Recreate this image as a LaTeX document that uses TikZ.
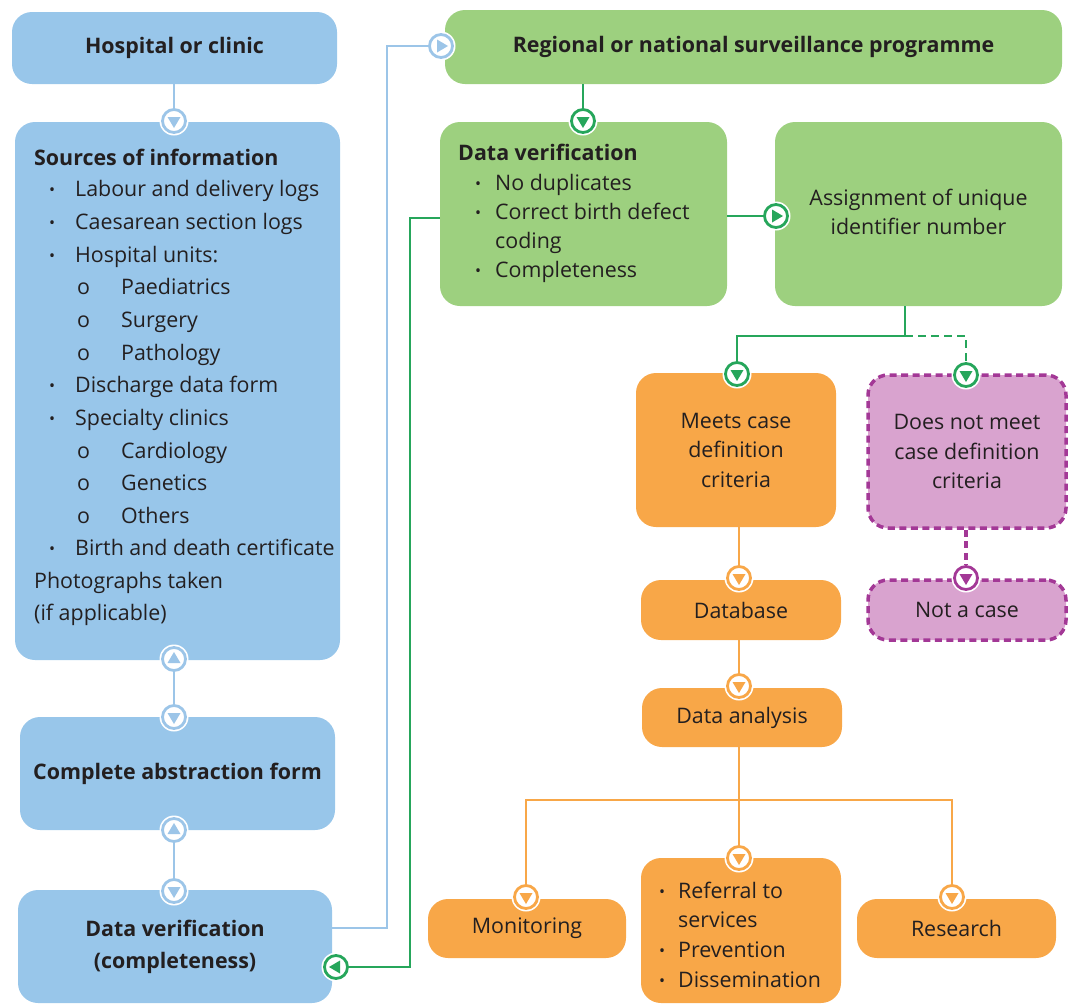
\documentclass[tikz,border=0pt]{standalone}
\usepackage{fontspec}
\setmainfont{Open Sans}
\usetikzlibrary{calc}
\definecolor{bfill}{HTML}{98C6EA}
\definecolor{bline}{HTML}{9CC5E8}
\definecolor{gfill}{HTML}{9DD07F}
\definecolor{gline}{HTML}{26A65B}
\definecolor{ofill}{HTML}{F8A748}
\definecolor{pfill}{HTML}{D9A3CF}
\definecolor{pline}{HTML}{A33896}
\definecolor{txt}{HTML}{231F20}
\newcommand\rbox[7]{\node[#1, minimum width={#4-#2}, minimum height={#5-#3}] (#6) at ({(#2+#4)/2},{(#3+#5)/2}) {#7};}
\newcommand\mk[4]{%
  \fill[white] #2 circle (14.5pt);
  \node[circle, draw=#3, fill=white, line width=2.8pt, minimum size=23pt, inner sep=0pt] (#1) at #2 {};
  \fill[#3, shift={#2}, rotate=#4] (-6.5pt,4pt) -- (6.5pt,4pt) -- (0pt,-7pt) -- cycle;}
\newcommand\smbul{\raisebox{0.5pt}{\fontsize{16}{16}\selectfont\textbullet}}
\newcommand\bu[2]{\makebox[#2pt][l]{\hspace{#1pt}\smbul}}
\newcommand\oo{\makebox[87pt][l]{\hspace{43pt}o}}
\newcommand\li[4]{\node[anchor=base west, inner sep=0pt, text=txt] (#1) at (#2,{#3+8}) {#4};}
\begin{document}
\begin{tikzpicture}[x=1pt,y=-1pt, font=\fontsize{21.4}{29.5}\selectfont,
  box/.style={rounded corners=20pt, inner sep=0pt, align=center, text=txt},
  bbox/.style={box, fill=bfill},
  gbox/.style={box, fill=gfill},
  obox/.style={box, fill=ofill},
  pbox/.style={box, fill=pfill, draw=pline, line width=3.5pt, dash pattern=on 7pt off 4.5pt},
  bl/.style={draw=bline, line width=2pt},
  gl/.style={draw=gline, line width=2pt},
  ol/.style={draw=ofill, line width=2pt},
  pl/.style={draw=pline, line width=3.5pt, dash pattern=on 7pt off 4.5pt}]
\useasboundingbox (0,0) rectangle (1070,1007);
% boxes
\rbox{bbox}{12}{12}{337}{84}{hosp}{\textbf{Hospital or clinic}}
\rbox{bbox}{15}{122}{340}{660}{src}{}
\rbox{bbox}{20}{717}{335}{830}{abs}{\textbf{Complete abstraction form}}
\rbox{bbox}{18}{890}{332}{1003}{dvc}{\raisebox{9pt}{\begin{tabular}{@{}c@{}}\textbf{Data verification}\\[3pt]\textbf{(completeness)}\end{tabular}}}
\rbox{gbox}{445}{10}{1062}{84}{reg}{\textbf{Regional or national surveillance programme}}
\rbox{gbox}{440}{122}{727}{306}{dv}{}
\rbox{gbox}{775}{122}{1062}{306}{asg}{\raisebox{13pt}{\begin{tabular}{@{}c@{}}Assignment of unique\\identifier number\end{tabular}}}
\rbox{obox}{636}{373}{836}{527}{meet}{Meets case\\definition\\criteria}
\rbox{pbox}{868}{375}{1066}{528}{nmeet}{Does not meet\\case definition\\criteria}
\rbox{pbox}{868}{580}{1066}{640}{nocase}{Not a case}
\rbox{obox}{641}{580}{841}{640}{db}{Database}
\rbox{obox}{642}{688}{842}{747}{da}{Data analysis}
\rbox{obox}{428}{899}{626}{958}{mon}{Monitoring}
\rbox{obox}{641}{858}{841}{1003}{ref}{}
\rbox{obox}{857}{899}{1056}{958}{res}{Research}
% list texts
\li{s1}{34}{157}{\textbf{Sources of information}}
\li{s2}{34}{188}{\bu{15}{41}Labour and delivery logs}
\li{s3}{34}{221}{\bu{15}{41}Caesarean section logs}
\li{s4}{34}{254}{\bu{15}{41}Hospital units:}
\li{s5}{34}{286}{\oo Paediatrics}
\li{s6}{34}{319}{\oo Surgery}
\li{s7}{34}{352}{\oo Pathology}
\li{s8}{34}{384}{\bu{15}{41}Discharge data form}
\li{s9}{34}{417}{\bu{15}{41}Specialty clinics}
\li{s10}{34}{450}{\oo Cardiology}
\li{s11}{34}{482}{\oo Genetics}
\li{s12}{34}{515}{\oo Others}
\li{s13}{34}{547}{\bu{15}{41}Birth and death certificate}
\li{s14}{34}{580}{Photographs taken}
\li{s15}{34}{612}{(if applicable)}
\li{v1}{458}{152}{\textbf{Data verification}}
\li{v2}{458}{182}{\bu{17}{37}No duplicates}
\li{v3}{458}{211}{\bu{17}{37}Correct birth defect}
\li{v4}{458}{240}{\hspace{37pt}coding}
\li{v5}{458}{269}{\bu{17}{37}Completeness}
\li{r1}{659}{890}{\bu{0}{19}Referral to}
\li{r2}{659}{919}{\hspace{19pt}services}
\li{r3}{659}{949}{\bu{0}{19}Prevention}
\li{r4}{659}{979}{\bu{0}{19}Dissemination}
% markers
\mk{m1}{(174,121)}{bline}{0}
\mk{m2}{(174,659)}{bline}{180}
\mk{m3}{(174,717)}{bline}{0}
\mk{m4}{(174,830)}{bline}{180}
\mk{m5}{(174,891)}{bline}{0}
\mk{mR}{(441,46)}{bline}{90}
\mk{g1}{(583,121)}{gline}{0}
\mk{g2}{(776,216)}{gline}{90}
\mk{g3}{(336,967)}{gline}{-90}
\mk{g4}{(737,374)}{gline}{0}
\mk{g5}{(966,375)}{gline}{0}
\mk{p1}{(966,578)}{pline}{0}
\mk{o1}{(739,578)}{ofill}{0}
\mk{o2}{(739,686)}{ofill}{0}
\mk{o3}{(739,858)}{ofill}{0}
\mk{o4}{(526,897)}{ofill}{0}
\mk{o5}{(952,897)}{ofill}{0}
% connectors
\draw[bl] (hosp.south -| m1) -- (m1);
\draw[bl] (m2) -- (m3);
\draw[bl] (m4) -- (m5);
\coordinate (c1) at (387,928);
\draw[bl] (c1 -| dvc.east) -- (c1) |- (mR);
\draw[gl] (reg.south -| g1) -- (g1);
\draw[gl] (g2 -| dv.east) -- (g2);
\coordinate (c2) at (410,218);
\draw[gl] (c2 -| dv.west) -- (c2) |- (g3);
\coordinate (j1) at (905,336);
\draw[gl] (asg.south -| j1) -- (j1) -| (g4);
\draw[gl, dash pattern=on 8pt off 5pt] (j1) -| (g5);
\draw[pl] (nmeet.south -| p1) -- (p1);
\draw[ol] (meet.south -| o1) -- (o1);
\draw[ol] (db.south -| o2) -- (o2);
\coordinate (j2) at (739,800);
\draw[ol] (da.south -| o3) -- (o3);
\draw[ol] (j2) -| (o4);
\draw[ol] (j2) -| (o5);
\end{tikzpicture}
\end{document}
